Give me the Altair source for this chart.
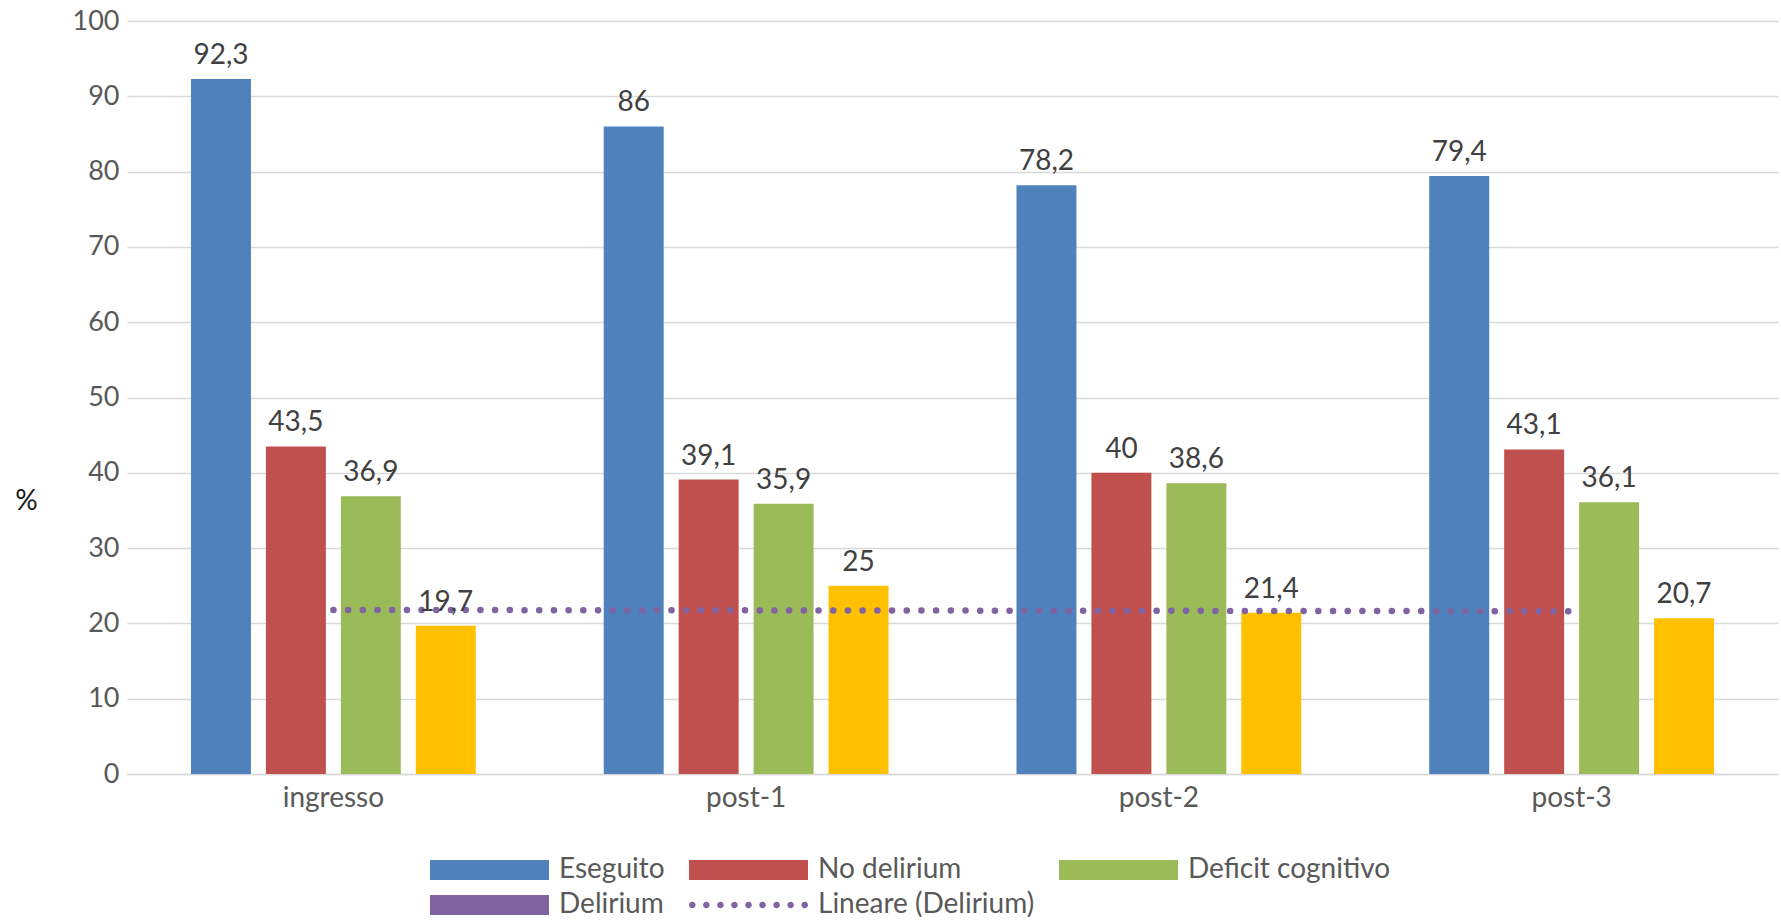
import json
import altair as alt
import pandas as pd

categories = ["ingresso", "post-1", "post-2", "post-3"]
eseguito = [92.3, 86, 78.2, 79.4]
no_delirium = [43.5, 39.1, 40, 43.1]
deficit = [36.9, 35.9, 38.6, 36.1]
delirium = [19.7, 25, 21.4, 20.7]
bar_series = ["Eseguito", "No delirium", "Deficit cognitivo", "Delirium"]
bar_colors = ["#4F81BD", "#C0504D", "#9BBB59", "#FFC000"]
legend_names = bar_series + ["Lineare (Delirium)"]
legend_colors = ["#4F81BD", "#C0504D", "#9BBB59", "#8064A2", "#8064A2"]
y_ticks = list(range(0, 101, 10))

rows = []
for s, vals in zip(bar_series, [eseguito, no_delirium, deficit, delirium]):
    for i, (c, v) in enumerate(zip(categories, vals)):
        rows.append({"cat": c, "idx": i + 1, "series": s, "value": v})
df = pd.DataFrame(rows)

FONT = "Lato"
GRID = "#D9D9D9"
LABEL = "#595959"

# legend symbol paths (unit = 10 px with symbolSize 400); wide swatch starting at entry left
rect_path = "M-1,-1H10.9V1H-1Z"
r = 0.33
dots = []
for k in range(9):
    cx = -0.67 + k * 1.405
    dots.append(f"M{cx - r:.3f},0a{r},{r} 0 1,0 {2*r:.2f},0a{r},{r} 0 1,0 {-2*r:.2f},0")
dot_path = "".join(dots)

x_enc = alt.X(
    "cat:N", sort=categories,
    scale=alt.Scale(paddingInner=0.31, paddingOuter=0.155),
    axis=alt.Axis(title=None, labelAngle=0, ticks=False, domainColor=GRID, domainWidth=1.5,
                  labelFontSize=28, labelColor=LABEL, labelFont=FONT, labelPadding=10),
)
y_enc = alt.Y(
    "value:Q", scale=alt.Scale(domain=[0, 100]),
    axis=alt.Axis(values=y_ticks, title="%", titleAngle=0, titleX=-101, titleY=480,
                  titleAlign="center", titleBaseline="middle",
                  titleFontSize=28, titleFontWeight="normal", titleColor="#1a1a1a", titleFont=FONT,
                  labelFontSize=27, labelColor=LABEL, labelFont=FONT, labelPadding=8,
                  domain=False, ticks=False, gridColor=GRID, gridWidth=1.3),
)
xoff = alt.XOffset("series:N", sort=bar_series, scale=alt.Scale(paddingInner=0.2, paddingOuter=0))

bars = alt.Chart(df).mark_bar().encode(
    x=x_enc, y=y_enc, xOffset=xoff,
    color=alt.Color("series:N", scale=alt.Scale(domain=bar_series, range=bar_colors), legend=None),
)

text = alt.Chart(df).transform_calculate(
    label="replace(toString(datum.value), '.', ',')"
).mark_text(baseline="bottom", dy=-9, fontSize=28, font=FONT, color="#404040").encode(
    x=x_enc, y=y_enc, xOffset=xoff, text="label:N"
)

trend = alt.Chart(df).transform_filter(
    alt.datum.series == "Delirium"
).transform_regression("idx", "value", method="linear").transform_calculate(
    cat=f"{json.dumps(categories)}[datum.idx - 1]"
).mark_line(color="#8064A2", strokeWidth=6.5, strokeCap="round", strokeDash=[0.1, 14.6]).encode(
    x=x_enc, y=y_enc
)

legend_def = alt.Legend(
    title=None, orient="none", legendX=299, legendY=835, direction="horizontal", columns=3,
    symbolSize=400, labelFontSize=28, labelColor=LABEL, labelFont=FONT,
    columnPadding=20, rowPadding=7, labelOffset=105, padding=0, symbolStrokeWidth=0,
    labelLimit=500,
)
legend_layer = alt.Chart(pd.DataFrame({"series": legend_names})).mark_point(
    filled=True, opacity=1, clip=True
).encode(
    x=alt.value(-3000), y=alt.value(-3000),
    color=alt.Color("series:N", sort=legend_names,
                    scale=alt.Scale(domain=legend_names, range=legend_colors), legend=legend_def),
    shape=alt.Shape("series:N", sort=legend_names,
                    scale=alt.Scale(domain=legend_names, range=[rect_path] * 4 + [dot_path]),
                    legend=legend_def),
)

chart = alt.layer(bars, trend, text, legend_layer).resolve_scale(
    color="independent", shape="independent"
).properties(
    width=1651, height=753,
    padding={"left": 127, "top": 21, "right": 3, "bottom": 148},
    autosize=alt.AutoSizeParams(type="none"),
).configure(font=FONT, view=alt.ViewConfig(stroke=None, strokeWidth=0))

chart.save("out.html", embed_options={"renderer": "svg", "actions": False})
